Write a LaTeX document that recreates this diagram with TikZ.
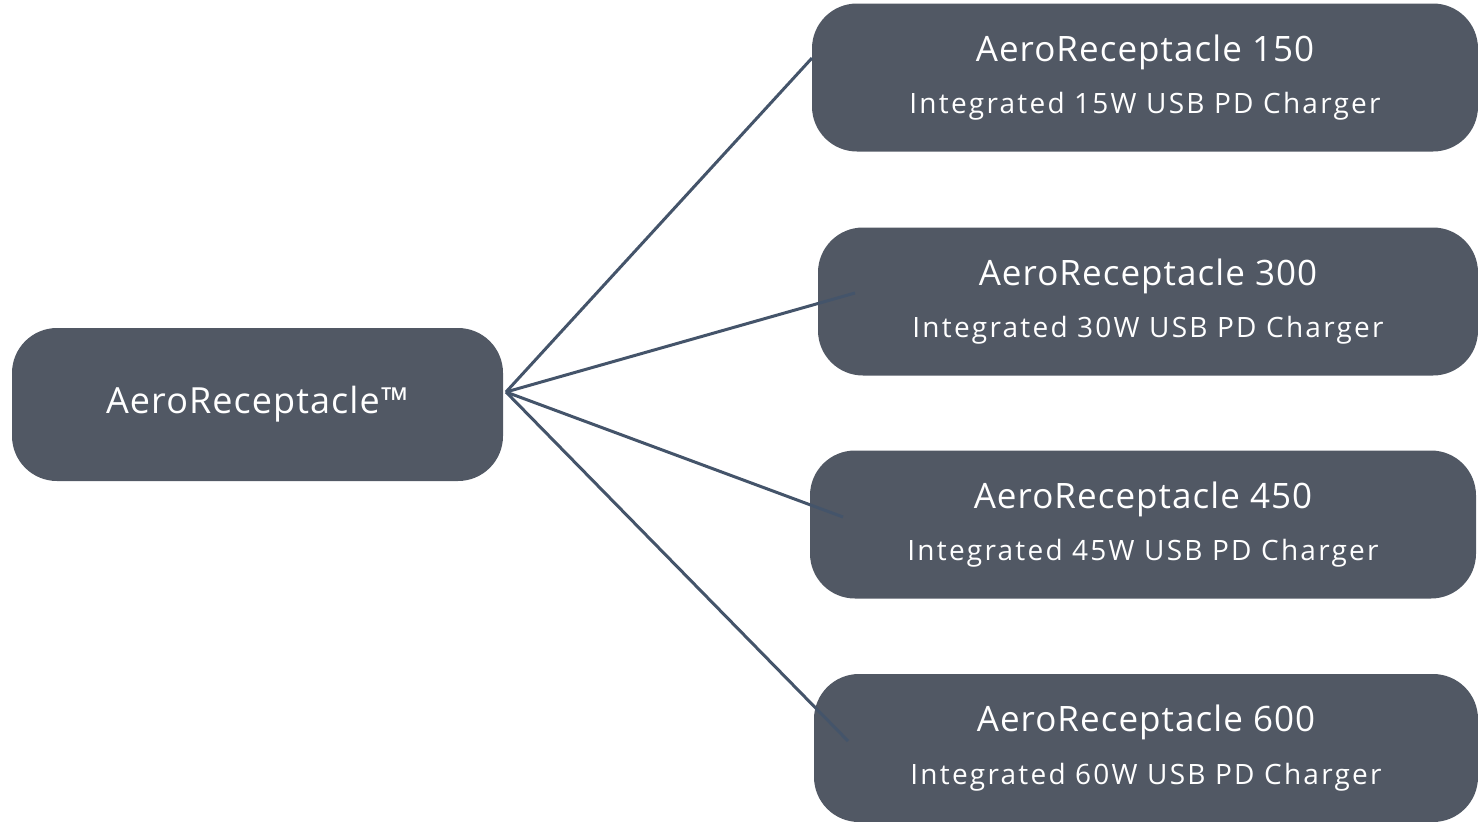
\documentclass[tikz,border=0pt]{standalone}
\usepackage{fontspec}
\setmainfont{Open Sans}
\newfontfamily\namefont[LetterSpace=3]{Open Sans}
\newfontfamily\tagfont[LetterSpace=8]{Open Sans}
\usetikzlibrary{positioning}
\definecolor{slate}{RGB}{81,88,100}
\definecolor{wire}{RGB}{68,84,106}
\newcommand{\modelname}[1]{{\namefont\fontsize{35}{42}\selectfont #1}}
\newcommand{\modeltag}[1]{{\tagfont\fontsize{28}{34}\selectfont #1}}
\tikzset{
  product/.style={
      rectangle,
      rounded corners=45pt,
      inner sep=0pt,
      fill=slate,
      text=white,
      align=center,
      minimum width=664pt,
      minimum height=148pt
  },
  wire/.style={
      draw=wire,
      line width=3pt
  }
}

\begin{document}
\begin{tikzpicture}[x=1pt,y=-1pt]
    \useasboundingbox (0,0) rectangle (1478,822);
    \node[product,minimum width=491pt,minimum height=153pt] (hub) at (257.5,404.5) {\namefont\fontsize{36}{42}\selectfont AeroReceptacle™};
    \node[product,minimum width=666pt] (ar150) at (1145,77.5) {\modelname{AeroReceptacle 150}\\[22pt]\modeltag{Integrated 15W USB PD Charger}};
    \node[product,minimum width=660pt] (ar300) at (1148,301.5) {\modelname{AeroReceptacle 300}\\[22pt]\modeltag{Integrated 30W USB PD Charger}};
    \node[product,minimum width=666pt] (ar450) at (1143,524.5) {\modelname{AeroReceptacle 450}\\[22pt]\modeltag{Integrated 45W USB PD Charger}};
    \node[product] (ar600) at (1146,748) {\modelname{AeroReceptacle 600}\\[22pt]\modeltag{Integrated 60W USB PD Charger}};
    % the wires stop a little way inside the boxes
    \coordinate (hubtip) at (506,392);
    \coordinate (in150) at (812,58);
    \coordinate (in300) at (855,293);
    \coordinate (in450) at (843,517);
    \coordinate (in600) at (848,741);
    \draw[wire] (hubtip) -- (in150);
    \draw[wire] (hubtip) -- (in300);
    \draw[wire] (hubtip) -- (in450);
    \draw[wire] (hubtip) -- (in600);
\end{tikzpicture}
\end{document}
